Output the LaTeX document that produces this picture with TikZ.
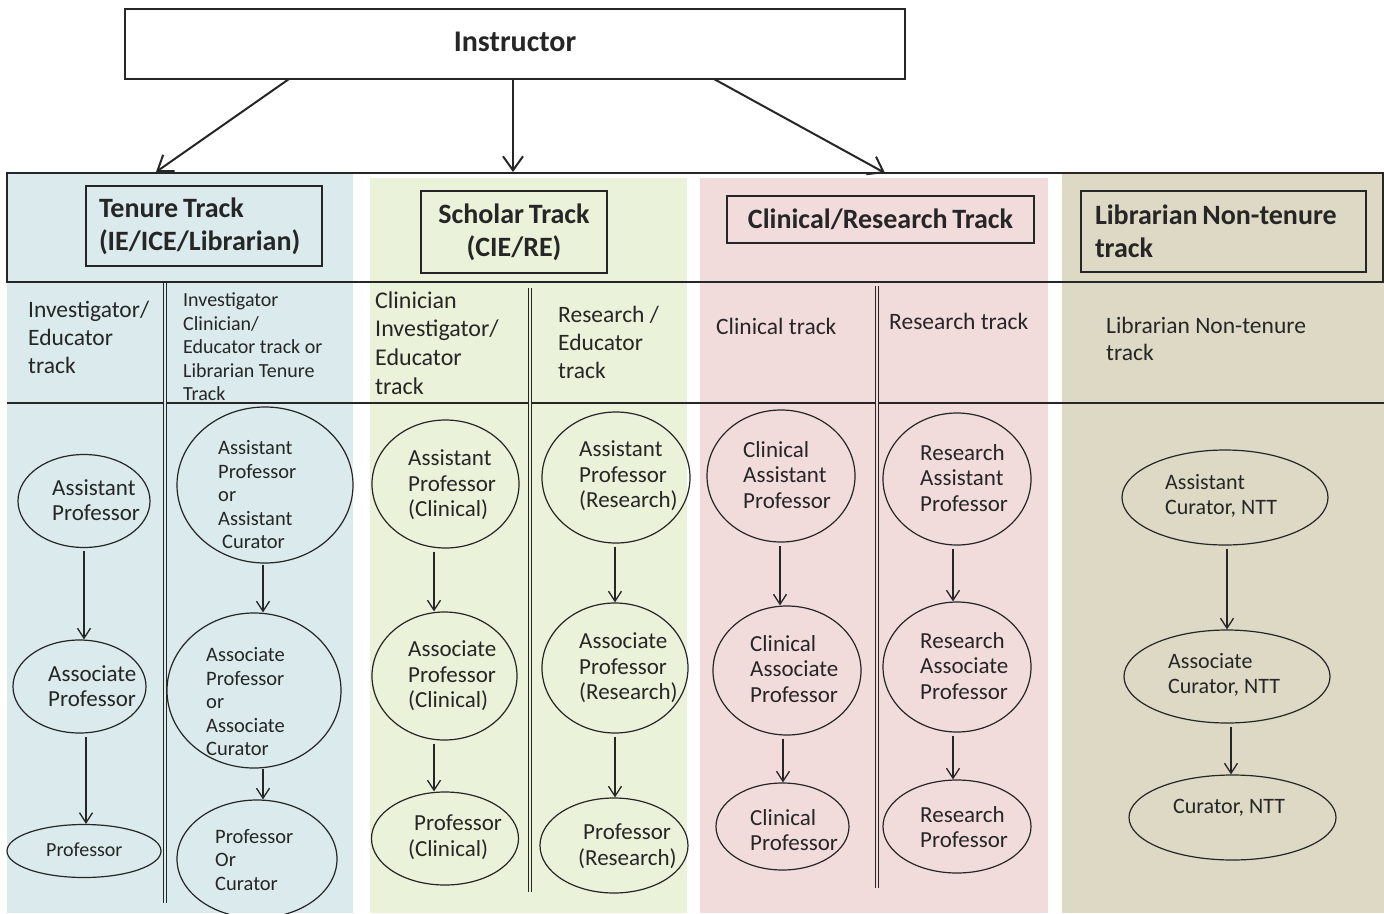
\documentclass[tikz,border=0pt]{standalone}
\usepackage{fontspec}
\setmainfont{Carlito}
\usetikzlibrary{shapes.geometric,arrows.meta}
\definecolor{pblue}{HTML}{DAEAED}
\definecolor{pgreen}{HTML}{EAF3D9}
\definecolor{ppink}{HTML}{F2DCDB}
\definecolor{ptan}{HTML}{DDD9C4}
\definecolor{ink}{HTML}{262626}
\newcommand\fsz[2]{\fontsize{#1}{#2}\selectfont}
\newcommand\tightspace{\spaceskip=0.17em\relax}
\begin{document}
\begin{tikzpicture}[x=1pt,y=-1pt,
  line/.style={draw=ink, line width=1.3pt},
  hbox/.style={draw=ink, line width=1.5pt, rectangle, inner sep=0pt, font=\fsz{28}{33}\bfseries, text=ink, execute at begin node=\tightspace},
  sub/.style={anchor=west, inner sep=0pt, align=left, font=\fsz{23.5}{28}, text=ink},
  oval/.style={draw=ink, line width=1.2pt, ellipse, inner sep=0pt},
  otext/.style={anchor=west, inner sep=0pt, align=left, text=ink, font=\fsz{23}{25.5}},
  arr/.style={draw=ink, line width=1.3pt, shorten <=3pt, -{Straight Barb[length=10pt,width=13pt]}},
  bigarr/.style={draw=ink, line width=2pt, -{Straight Barb[length=14pt,width=20pt]}},
  dline/.style={draw=ink, line width=1pt, double distance=1.6pt}
]
\useasboundingbox (0,0) rectangle (1384,913);
% panels
\fill[pblue] (7,173) rectangle (353,913);
\fill[pgreen] (370,178) rectangle (687,913);
\fill[ppink] (700,178) rectangle (1048,913);
\fill[ptan] (1062,173) rectangle (1384,913);
% frame lines
\draw[line] (7,173) rectangle (1383,282);
\draw[line] (7,403) -- (1384,403);
\draw[dline, double=pblue] (165,283) -- (165,903);
\draw[dline, double=pgreen] (530,288) -- (530,892);
\draw[dline, double=ppink] (877,286) -- (877,888);
% instructor
\node[draw=ink, line width=1.5pt, fill=white, minimum width=780pt, minimum height=70pt, inner sep=0pt, font=\fsz{30}{36}\bfseries, text=ink] (instr) at (515,44) {Instructor\strut};
% track headers
\node[hbox, minimum width=236pt, minimum height=80pt, text width=210pt, align=left] (tt) at (204,226) {Tenure Track\\(IE/ICE/Librarian)};
\node[hbox, minimum width=186pt, minimum height=82pt, align=center] (st) at (514,232) {Scholar Track\\(CIE/RE)};
\node[hbox, minimum width=307pt, minimum height=47pt] (ct) at (880.5,219.5) {Clinical/Research Track};
\node[hbox, minimum width=285pt, minimum height=81pt, text width=257pt, align=left] (lt) at (1223.5,231.5) {Librarian Non-tenure\\track};
% instructor arrows
\coordinate (a1) at (289,79); \coordinate (b1) at (156,172);
\coordinate (a2) at (513,79); \coordinate (b2) at (513,172);
\coordinate (a3) at (714,79); \coordinate (b3) at (885,173);
\draw[bigarr] (a1) -- (b1);
\draw[bigarr] (a2) -- (b2);
\draw[bigarr] (a3) -- (b3);
% sub headers
\node[sub] (s1) at (28,337.5) {Investigator/\\Educator\\track};
\node[sub, font=\fsz{20}{23.5}] (s2) at (183,347) {Investigator\\Clinician/\\Educator track or\\Librarian Tenure\\Track};
\node[sub, font=\fsz{24}{28.7}] (s3) at (375,343) {Clinician\\Investigator/\\Educator\\track};
\node[sub] (s4) at (558,342) {Research /\\Educator\\track};
\node[sub] (s5) at (716,326) {Clinical track};
\node[sub] (s6) at (889,321) {Research track};
\node[sub, font=\fsz{23.5}{27}] (s7) at (1106,338.5) {Librarian Non-tenure\\track};
% column 1
\node[oval, minimum width=132pt, minimum height=93pt] (e11) at (84,501) {};
\node[oval, minimum width=133pt, minimum height=93pt] (e12) at (79.5,686.5) {};
\node[oval, minimum width=154pt, minimum height=53pt] (e13) at (84,851) {};
\node[otext] (e11t) at (52,500) {Assistant\\Professor};
\node[otext] (e12t) at (48,686) {Associate\\Professor};
\node[otext, font=\fsz{20}{24}] (e13t) at (46,850) {Professor};
\draw[arr] (e11.south) -- ([xshift=4.5pt]e12.north);
\draw[arr] ([xshift=6.5pt]e12.south) -- ([xshift=2pt]e13.north);
% column 2
\node[oval, minimum width=176pt, minimum height=156pt] (e21) at (265,485) {};
\node[oval, minimum width=174pt, minimum height=155pt] (e22) at (254,690.5) {};
\node[oval, minimum width=160pt, minimum height=118pt] (e23) at (257,859) {};
\node[otext, font=\fsz{20.5}{23.5}] (e21t) at (218,495) {Assistant\\Professor\\or\\Assistant\\\hspace*{4pt}Curator};
\node[otext, font=\fsz{20.5}{23.5}] (e22t) at (206,702) {Associate\\Professor\\or\\Associate\\Curator};
\node[otext, font=\fsz{20.5}{23.5}] (e23t) at (215,860) {Professor\\Or\\Curator};
\draw[arr, shorten <=1pt] ([xshift=-2pt]e21.south) -- ([xshift=9pt]e22.north);
\draw[arr, shorten <=0pt] ([xshift=9pt]e22.south) -- ([xshift=6pt]e23.north);
% scholar clinical
\node[oval, minimum width=147pt, minimum height=128pt] (e31) at (445.5,484) {};
\node[oval, minimum width=145pt, minimum height=128pt] (e32) at (444.5,676) {};
\node[oval, minimum width=147pt, minimum height=93pt] (e33) at (445,838.5) {};
\node[otext] (e31t) at (408,485) {Assistant\\Professor\\(Clinical)};
\node[otext] (e32t) at (408,676) {Associate\\Professor\\(Clinical)};
\node[otext] (e33t) at (408,837) {\hspace*{6pt}Professor\\(Clinical)};
\draw[arr] ([xshift=-11.5pt]e31.south) -- ([xshift=-10.5pt]e32.north);
\draw[arr] ([xshift=-10.5pt]e32.south) -- ([xshift=-11pt]e33.north);
% scholar research
\node[oval, minimum width=148pt, minimum height=131pt] (e41) at (616,477.5) {};
\node[oval, minimum width=146pt, minimum height=130pt] (e42) at (615,668) {};
\node[oval, minimum width=148pt, minimum height=95pt] (e43) at (614,845.5) {};
\node[otext] (e41t) at (579,476) {Assistant\\Professor\\(Research)};
\node[otext] (e42t) at (579,668) {Associate\\Professor\\(Research)};
\node[otext] (e43t) at (578,846) {\hspace*{5pt}Professor\\(Research)};
\draw[arr] ([xshift=-1pt]e41.south) -- (e42.north);
\draw[arr] (e42.south) -- ([xshift=1pt]e43.north);
% clinical track
\node[oval, minimum width=148pt, minimum height=132pt] (e51) at (781,476) {};
\node[oval, minimum width=148pt, minimum height=129pt] (e52) at (787,670.5) {};
\node[oval, minimum width=133pt, minimum height=87pt] (e53) at (782.5,826.5) {};
\node[otext] (e51t) at (743,475) {Clinical\\Assistant\\Professor};
\node[otext] (e52t) at (750,669) {Clinical\\Associate\\Professor};
\node[otext] (e53t) at (750,830) {Clinical\\Professor};
\draw[arr] ([xshift=-1pt]e51.south) -- ([xshift=-7pt]e52.north);
\draw[arr] ([xshift=-4pt]e52.south) -- ([xshift=0.5pt]e53.north);
% research track
\node[oval, minimum width=148pt, minimum height=132pt] (e61) at (957,479) {};
\node[oval, minimum width=148pt, minimum height=130pt] (e62) at (957,667) {};
\node[oval, minimum width=148pt, minimum height=93pt] (e63) at (957,826.5) {};
\node[otext] (e61t) at (920,478) {Research\\Assistant\\Professor};
\node[otext] (e62t) at (920,666) {Research\\Associate\\Professor};
\node[otext] (e63t) at (920,827) {Research\\Professor};
\draw[arr] ([xshift=-4pt]e61.south) -- ([xshift=-4pt]e62.north);
\draw[arr] ([xshift=-4pt]e62.south) -- ([xshift=-4pt]e63.north);
% librarian
\node[oval, minimum width=206pt, minimum height=95pt] (e71) at (1225,497.5) {};
\node[oval, minimum width=206pt, minimum height=93pt] (e72) at (1227,676.5) {};
\node[oval, minimum width=207pt, minimum height=85pt] (e73) at (1232.5,817.5) {};
\node[otext, font=\fsz{22}{25}] (e71t) at (1165,496) {Assistant\\Curator, NTT};
\node[otext, font=\fsz{22}{25}] (e72t) at (1168,675) {Associate\\Curator, NTT};
\node[otext, font=\fsz{22}{25}] (e73t) at (1173,808) {Curator, NTT};
\draw[arr] ([xshift=2pt]e71.south) -- (e72.north);
\draw[arr] ([xshift=4pt]e72.south) -- ([xshift=-1.5pt]e73.north);
\end{tikzpicture}
\end{document}
